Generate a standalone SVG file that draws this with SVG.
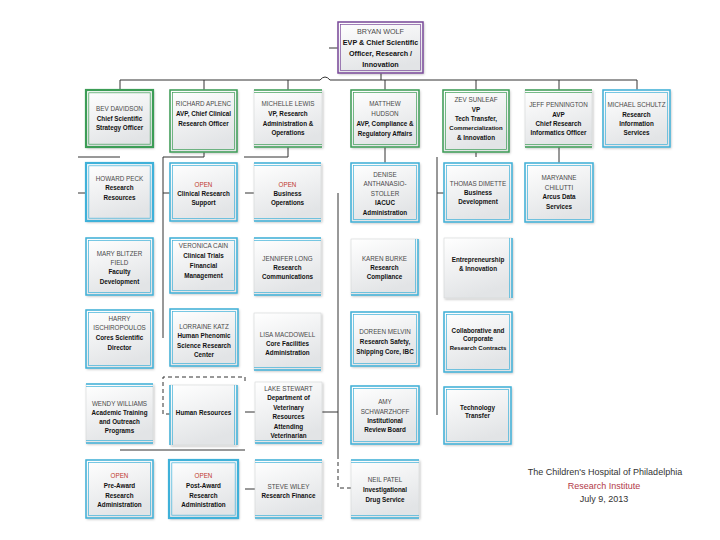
<svg xmlns="http://www.w3.org/2000/svg" width="720" height="540" viewBox="0 0 720 540">
<defs>
<linearGradient id="gf" x1="0" y1="0" x2="0.35" y2="1">
<stop offset="0" stop-color="#ffffff"/>
<stop offset="1" stop-color="#e2e4e6"/>
</linearGradient>
<filter id="sh" x="-10%" y="-10%" width="130%" height="130%">
<feDropShadow dx="1" dy="1.2" stdDeviation="0.8" flood-color="#000" flood-opacity="0.25"/>
</filter>
<style>
.bx{fill:url(#gf);stroke:#d4d6d8;stroke-width:0.6;filter:url(#sh)}
.o{fill:none;stroke-width:1.5}
.ot{fill:none;stroke-width:2.2}
.i{fill:none;stroke-width:0.7}
.g{stroke:#3c9d56}
.c{stroke:#3fb1d9}
.p{stroke:#7b4a9b}
.cn path{stroke:#333;stroke-width:1;fill:none}
.cn path.ds{stroke-dasharray:4 3}
text{font-family:"Liberation Sans",Arial,sans-serif;font-size:6.3px;text-anchor:middle}
.nm{fill:#4a4a4a}
.tt{fill:#111;font-weight:bold}
.op{fill:#c0392b}
.big{font-size:7.2px}
.ft{font-size:9px;fill:#333}
.fr{font-size:9px;fill:#b23a48}
</style>
</defs>
<rect width="720" height="540" fill="#ffffff"/>

<g class="cn" id="connectors">
<path d="M329 48 H338"/>
<path d="M381 73 V80"/>
<path d="M120 80 H320 Q325 74 330 80 H637"/>
<path d="M120 80 V90 M204 80 V90 M288 80 V90 M385 80 V90 M476 80 V90 M559 80 V90 M637 80 V90"/>
<path d="M78 157 H120"/>
<path d="M78 193 H86"/>
<path d="M204 152 V157 H163 V338"/>
<path d="M163 193 H170"/>
<path d="M288 147 V157 H244"/>
<path d="M245 193 H254"/>
<path class="ds" d="M170 414 H163 V377 H245 V383"/>
<path d="M245 412 H255"/>
<path d="M322 412 H338"/>
<path d="M120 450 H245"/>
<path d="M245 489 H255"/>
<path d="M385 147 V163"/>
<path d="M338 193 V455"/>
<path class="ds" d="M338 455 V488 H351"/>
<path d="M476 152 V157"/>
<path d="M437 157 V415"/>
<path d="M437 193 H444"/>
<path d="M559 147 V163"/>
</g>

<g id="n-wolf">
<rect class="bx" x="338" y="22" width="85" height="51"/>
<rect class="o p" x="338" y="22" width="85" height="51"/>
<rect class="i p" x="340.5" y="24.5" width="80" height="46"/>
<text class="big" x="380.5"><tspan class="nm" x="380.5" y="34">BRYAN WOLF</tspan><tspan class="tt" x="380.5" y="45">EVP &amp; Chief Scientific</tspan><tspan class="tt" x="380.5" y="56">Officer, Research /</tspan><tspan class="tt" x="380.5" y="67">Innovation</tspan></text>
</g>

<g id="n-davidson">
<rect class="bx" x="86" y="90" width="67" height="57"/>
<rect class="ot g" x="86" y="90" width="67" height="57"/>
<rect class="i g" x="88.8" y="92.8" width="61.4" height="51.4"/>
<text><tspan class="nm" x="119.5" y="111.3">BEV DAVIDSON</tspan><tspan class="tt" x="119.5" y="120.8">Chief Scientific</tspan><tspan class="tt" x="119.5" y="130.3">Strategy Officer</tspan></text>
</g>

<g id="n-aplenc">
<rect class="bx" x="170" y="90" width="67" height="62"/>
<rect class="o g" x="170" y="90" width="67" height="62"/>
<rect class="i g" x="172.5" y="92.5" width="62" height="57"/>
<text><tspan class="nm" x="203.5" y="105.5">RICHARD APLENC</tspan><tspan class="tt" x="203.5" y="115.5">AVP, Chief Clinical</tspan><tspan class="tt" x="203.5" y="125.5">Research Officer</tspan></text>
</g>

<g id="n-lewis">
<rect class="bx" x="254" y="90" width="68" height="57"/>
<path class="o g" d="M254 90 H322 M254 147 H322"/>
<path class="i g" d="M254 92.5 H322 M254 144.5 H322"/>
<text><tspan class="nm" x="288" y="106.3">MICHELLE LEWIS</tspan><tspan class="tt" x="288" y="116">VP, Research</tspan><tspan class="tt" x="288" y="125.7">Administration &amp;</tspan><tspan class="tt" x="288" y="135.4">Operations</tspan></text>
</g>

<g id="n-hudson">
<rect class="bx" x="351" y="90" width="68" height="57"/>
<rect class="o g" x="351" y="90" width="68" height="57"/>
<rect class="i g" x="353.5" y="92.5" width="63" height="52"/>
<text><tspan class="nm" x="385" y="105.6">MATTHEW</tspan><tspan class="nm" x="385" y="115.6">HUDSON</tspan><tspan class="tt" x="385" y="125.6">AVP, Compliance &amp;</tspan><tspan class="tt" x="385" y="135.6">Regulatory Affairs</tspan></text>
</g>

<g id="n-sunleaf">
<rect class="bx" x="443" y="90" width="66" height="62"/>
<rect class="o g" x="443" y="90" width="66" height="62"/>
<rect class="i g" x="445.5" y="92.5" width="61" height="57"/>
<text><tspan class="nm" x="476" y="102.3">ZEV SUNLEAF</tspan><tspan class="tt" x="476" y="111.6">VP</tspan><tspan class="tt" x="476" y="120.9">Tech Transfer,</tspan><tspan class="tt" x="476" y="130.2" style="font-size:6px">Commercialization</tspan><tspan class="tt" x="476" y="139.5">&amp; Innovation</tspan></text>
</g>

<g id="n-pennington">
<rect class="bx" x="525" y="90" width="67" height="57"/>
<path class="o g" d="M525 90 H592 M525 147 H592"/>
<path class="i g" d="M525 92.5 H592 M525 144.5 H592"/>
<text><tspan class="nm" x="558.5" y="107.3">JEFF PENNINGTON</tspan><tspan class="tt" x="558.5" y="116.6">AVP</tspan><tspan class="tt" x="558.5" y="125.9">Chief Research</tspan><tspan class="tt" x="558.5" y="135.2">Informatics Officer</tspan></text>
</g>

<g id="n-schultz">
<rect class="bx" x="603" y="90" width="67" height="57"/>
<rect class="o c" x="603" y="90" width="67" height="57"/>
<rect class="i c" x="605.5" y="92.5" width="62" height="52"/>
<text><tspan class="nm" x="636.5" y="107.3">MICHAEL SCHULTZ</tspan><tspan class="tt" x="636.5" y="116.6">Research</tspan><tspan class="tt" x="636.5" y="125.9">Information</tspan><tspan class="tt" x="636.5" y="135.2">Services</tspan></text>
</g>

<g id="n-peck">
<rect class="bx" x="86" y="163" width="67" height="58"/>
<rect class="ot c" x="86" y="163" width="67" height="58"/>
<rect class="i c" x="88.8" y="165.8" width="61.4" height="52.4"/>
<text><tspan class="nm" x="119.5" y="180.5">HOWARD PECK</tspan><tspan class="tt" x="119.5" y="190.3">Research</tspan><tspan class="tt" x="119.5" y="200">Resources</tspan></text>
</g>

<g id="n-clinical">
<rect class="bx" x="170" y="163" width="67" height="58"/>
<rect class="o c" x="170" y="163" width="67" height="58"/>
<rect class="i c" x="172.5" y="165.5" width="62" height="53"/>
<text><tspan class="op" x="203.5" y="186.6">OPEN</tspan><tspan class="tt" x="203.5" y="195.6">Clinical Research</tspan><tspan class="tt" x="203.5" y="204.6">Support</tspan></text>
</g>

<g id="n-business">
<rect class="bx" x="254" y="163" width="67" height="58"/>
<path class="o c" d="M254 163 H321 M254 221 H321"/>
<path class="i c" d="M254 165.5 H321 M254 218.5 H321"/>
<text><tspan class="op" x="287.5" y="186.6">OPEN</tspan><tspan class="tt" x="287.5" y="195.6">Business</tspan><tspan class="tt" x="287.5" y="204.6">Operations</tspan></text>
</g>

<g id="n-stoller">
<rect class="bx" x="351" y="163" width="68" height="59"/>
<rect class="o c" x="351" y="163" width="68" height="59"/>
<rect class="i c" x="353.5" y="165.5" width="63" height="54"/>
<text><tspan class="nm" x="385" y="176.6">DENISE</tspan><tspan class="nm" x="385" y="186.1">ANTHANASIO-</tspan><tspan class="nm" x="385" y="195.6">STOLLER</tspan><tspan class="tt" x="385" y="205.1">IACUC</tspan><tspan class="tt" x="385" y="214.6">Administration</tspan></text>
</g>

<g id="n-dimette">
<rect class="bx" x="444" y="163" width="68" height="59"/>
<rect class="o c" x="444" y="163" width="68" height="59"/>
<rect class="i c" x="446.5" y="165.5" width="63" height="54"/>
<text><tspan class="nm" x="478" y="185.6">THOMAS DIMETTE</tspan><tspan class="tt" x="478" y="195">Business</tspan><tspan class="tt" x="478" y="204.4">Development</tspan></text>
</g>

<g id="n-chilutti">
<rect class="bx" x="525" y="163" width="68" height="59"/>
<rect class="o c" x="525" y="163" width="68" height="59"/>
<rect class="i c" x="527.5" y="165.5" width="63" height="54"/>
<text><tspan class="nm" x="559" y="180">MARYANNE</tspan><tspan class="nm" x="559" y="189.5">CHILUTTI</tspan><tspan class="tt" x="559" y="199.2">Arcus Data</tspan><tspan class="tt" x="559" y="208.8">Services</tspan></text>
</g>

<g id="n-field">
<rect class="bx" x="86" y="238" width="67" height="57"/>
<rect class="o c" x="86" y="238" width="67" height="57"/>
<rect class="i c" x="88.5" y="240.5" width="62" height="52"/>
<text><tspan class="nm" x="119.5" y="255.6">MARY BLITZER</tspan><tspan class="nm" x="119.5" y="265">FIELD</tspan><tspan class="tt" x="119.5" y="274.4">Faculty</tspan><tspan class="tt" x="119.5" y="283.8">Development</tspan></text>
</g>

<g id="n-cain">
<rect class="bx" x="170" y="238" width="67" height="55"/>
<rect class="o c" x="170" y="238" width="67" height="55"/>
<rect class="i c" x="172.5" y="240.5" width="62" height="50"/>
<text><tspan class="nm" x="203.5" y="248">VERONICA CAIN</tspan><tspan class="tt" x="203.5" y="258">Clinical Trials</tspan><tspan class="tt" x="203.5" y="268">Financial</tspan><tspan class="tt" x="203.5" y="278">Management</tspan></text>
</g>

<g id="n-long">
<rect class="bx" x="254" y="238" width="67" height="57"/>
<path class="o c" d="M254 238 H321 M254 295 H321"/>
<path class="i c" d="M254 240.5 H321 M254 292.5 H321"/>
<text><tspan class="nm" x="287.5" y="260.6">JENNIFER LONG</tspan><tspan class="tt" x="287.5" y="270">Research</tspan><tspan class="tt" x="287.5" y="279">Communications</tspan></text>
</g>

<g id="n-burke">
<rect class="bx" x="351" y="239" width="67" height="56"/>
<path class="o c" d="M418 239 V295 H351"/>
<path class="i c" d="M415.5 239 V292.5 H351"/>
<text><tspan class="nm" x="384.5" y="260.6">KAREN BURKE</tspan><tspan class="tt" x="384.5" y="269.8">Research</tspan><tspan class="tt" x="384.5" y="279">Compliance</tspan></text>
</g>

<g id="n-entre">
<rect class="bx" x="444" y="238" width="68" height="60"/>
<path class="o c" d="M512 238 V298"/>
<path class="i c" d="M509.5 238 V298"/>
<text><tspan class="tt" x="478" y="261.6">Entrepreneurship</tspan><tspan class="tt" x="478" y="270.6">&amp; Innovation</tspan></text>
</g>

<g id="n-ischiropoulos">
<rect class="bx" x="86" y="310" width="67" height="58"/>
<rect class="o c" x="86" y="310" width="67" height="58"/>
<rect class="i c" x="88.5" y="312.5" width="62" height="53"/>
<text><tspan class="nm" x="119.5" y="320.6">HARRY</tspan><tspan class="nm" x="119.5" y="330.3">ISCHIROPOULOS</tspan><tspan class="tt" x="119.5" y="339.8">Cores Scientific</tspan><tspan class="tt" x="119.5" y="349.5">Director</tspan></text>
</g>

<g id="n-katz">
<rect class="bx" x="170" y="309" width="68" height="57"/>
<rect class="o c" x="170" y="309" width="68" height="57"/>
<rect class="i c" x="172.5" y="311.5" width="63" height="52"/>
<text><tspan class="nm" x="204" y="329">LORRAINE KATZ</tspan><tspan class="tt" x="204" y="338.3">Human Phenomic</tspan><tspan class="tt" x="204" y="347.5">Science Research</tspan><tspan class="tt" x="204" y="356.8">Center</tspan></text>
</g>

<g id="n-macdowell">
<rect class="bx" x="254" y="313" width="67" height="57"/>
<path class="o c" d="M254 370 H321"/>
<path class="i c" d="M254 367.5 H321"/>
<text><tspan class="nm" x="287.5" y="337.3">LISA MACDOWELL</tspan><tspan class="tt" x="287.5" y="346">Core Facilities</tspan><tspan class="tt" x="287.5" y="355">Administration</tspan></text>
</g>

<g id="n-melvin">
<rect class="bx" x="351" y="312" width="68" height="54"/>
<rect class="o c" x="351" y="312" width="68" height="54"/>
<rect class="i c" x="353.5" y="314.5" width="63" height="49"/>
<text><tspan class="nm" x="385" y="334">DOREEN MELVIN</tspan><tspan class="tt" x="385" y="344">Research Safety,</tspan><tspan class="tt" x="385" y="354">Shipping Core, IBC</tspan></text>
</g>

<g id="n-contracts">
<rect class="bx" x="444" y="312" width="68" height="60"/>
<rect class="o c" x="444" y="312" width="68" height="60"/>
<rect class="i c" x="446.5" y="314.5" width="63" height="55"/>
<text><tspan class="tt" x="478" y="332.5">Collaborative and</tspan><tspan class="tt" x="478" y="341">Corporate</tspan><tspan class="tt" x="478" y="349.5" style="font-size:6px">Research Contracts</tspan></text>
</g>

<g id="n-williams">
<rect class="bx" x="86" y="384" width="67" height="59"/>
<path class="o c" d="M86 384 H153 M86 443 H153"/>
<path class="i c" d="M86 386.5 H153 M86 440.5 H153"/>
<text><tspan class="nm" x="119.5" y="405.6">WENDY WILLIAMS</tspan><tspan class="tt" x="119.5" y="414.8">Academic Training</tspan><tspan class="tt" x="119.5" y="424">and Outreach</tspan><tspan class="tt" x="119.5" y="433.3">Programs</tspan></text>
</g>

<g id="n-hr">
<rect class="bx" x="170" y="385" width="67" height="60"/>
<path class="o c" d="M170 385 V445 M237 385 V445"/>
<path class="i c" d="M172.5 385 V445 M234.5 385 V445"/>
<text><tspan class="tt" x="203.5" y="414.6">Human Resources</tspan></text>
</g>

<g id="n-stewart">
<rect class="bx" x="255" y="382" width="67" height="61"/>
<path class="o c" d="M255 443 H322"/>
<path class="i c" d="M255 440.5 H322"/>
<text><tspan class="nm" x="288.5" y="390.5">LAKE STEWART</tspan><tspan class="tt" x="288.5" y="400">Department of</tspan><tspan class="tt" x="288.5" y="409.5">Veterinary</tspan><tspan class="tt" x="288.5" y="419">Resources</tspan><tspan class="tt" x="288.5" y="428.5">Attending</tspan><tspan class="tt" x="288.5" y="438">Veterinarian</tspan></text>
</g>

<g id="n-schwarzhoff">
<rect class="bx" x="351" y="386" width="68" height="58"/>
<rect class="o c" x="351" y="386" width="68" height="58"/>
<rect class="i c" x="353.5" y="388.5" width="63" height="53"/>
<text><tspan class="nm" x="385" y="404">AMY</tspan><tspan class="nm" x="385" y="413.7">SCHWARZHOFF</tspan><tspan class="tt" x="385" y="423">Institutional</tspan><tspan class="tt" x="385" y="432.3">Review Board</tspan></text>
</g>

<g id="n-techtransfer">
<rect class="bx" x="444" y="387" width="67" height="57"/>
<rect class="o c" x="444" y="387" width="67" height="57"/>
<rect class="i c" x="446.5" y="389.5" width="62" height="52"/>
<text><tspan class="tt" x="477.5" y="409.6">Technology</tspan><tspan class="tt" x="477.5" y="418.3">Transfer</tspan></text>
</g>

<g id="n-preaward">
<rect class="bx" x="86" y="460" width="67" height="58"/>
<rect class="o c" x="86" y="460" width="67" height="58"/>
<rect class="i c" x="88.5" y="462.5" width="62" height="53"/>
<text><tspan class="op" x="119.5" y="478.3">OPEN</tspan><tspan class="tt" x="119.5" y="488">Pre-Award</tspan><tspan class="tt" x="119.5" y="498">Research</tspan><tspan class="tt" x="119.5" y="507.3">Administration</tspan></text>
</g>

<g id="n-postaward">
<rect class="bx" x="169" y="460" width="69" height="58"/>
<rect class="ot c" x="169" y="460" width="69" height="58"/>
<rect class="i c" x="171.8" y="462.8" width="63.4" height="52.4"/>
<text><tspan class="op" x="203.5" y="478.3">OPEN</tspan><tspan class="tt" x="203.5" y="488">Post-Award</tspan><tspan class="tt" x="203.5" y="498">Research</tspan><tspan class="tt" x="203.5" y="507.3">Administration</tspan></text>
</g>

<g id="n-wiley">
<rect class="bx" x="255" y="460" width="67" height="58"/>
<path class="o c" d="M255 460 H322 M255 518 H322"/>
<path class="i c" d="M255 462.5 H322 M255 515.5 H322"/>
<text><tspan class="nm" x="288.5" y="489">STEVE WILEY</tspan><tspan class="tt" x="288.5" y="498">Research Finance</tspan></text>
</g>

<g id="n-patel">
<rect class="bx" x="351" y="460" width="68" height="58"/>
<path class="o c" d="M351 460 H419 M351 518 H419"/>
<path class="i c" d="M351 462.5 H419 M351 515.5 H419"/>
<text><tspan class="nm" x="385" y="482.3">NEIL PATEL</tspan><tspan class="tt" x="385" y="491.5">Investigational</tspan><tspan class="tt" x="385" y="501.5">Drug Service</tspan></text>
</g>

<g id="footer">
<text class="ft" x="605" y="475">The Children's Hospital of Philadelphia</text>
<text class="fr" x="604" y="489">Research Institute</text>
<text class="ft" x="604" y="502">July 9, 2013</text>
</g>
</svg>
